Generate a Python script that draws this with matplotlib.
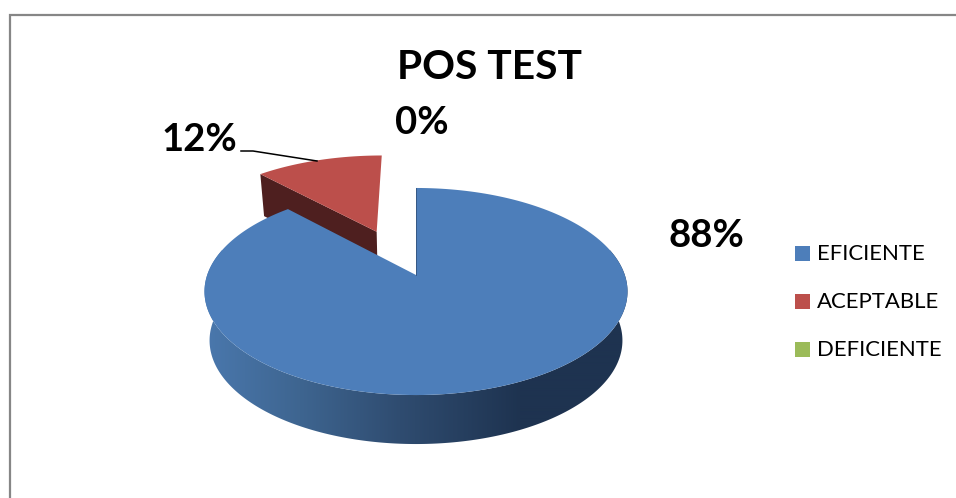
import numpy as np
import matplotlib
matplotlib.use('Agg')
import matplotlib.pyplot as plt
from matplotlib.patches import Polygon

# data
categories = ['EFICIENTE', 'ACEPTABLE', 'DEFICIENTE']
values = [88, 12, 0]
colors = ['#4d7eba', '#bc4f4b', '#9bbb59']
title = 'POS TEST'

# pie geometry, in pixels of the canvas
cx, cy = 416.0, 275.0
rx, ry = 208.8, 100.9
k = 0.1594          # perspective strength
shrink = 0.976      # base of the pie is a bit narrower
blue_depth = 49
red_depth = 42
explode = 0.495


def project(phi, r=1.0, off=(0.0, 0.0)):
    # phi is degrees clockwise from the top
    a = np.radians(phi)
    u = r * np.sin(a) + off[0]
    v = r * np.cos(a) + off[1]
    s = 1.0 / (1.0 + k * v)
    return cx + rx * u * s, cy - ry * v * s


def sector(start, end, off=(0.0, 0.0)):
    phi = np.linspace(start, end, 200)
    x, y = project(phi, off=off)
    ax0, ay0 = project(0.0, r=0.0, off=off)
    return np.r_[ax0, x], np.r_[ay0, y]


plt.rcParams['font.family'] = ['Lato', 'DejaVu Sans']
fig = plt.figure(figsize=(9.56, 4.98), dpi=100)
ax = fig.add_axes([0, 0, 1, 1])
ax.set_xlim(0, 956)
ax.set_ylim(498, 0)
ax.axis('off')

# frame of the chart, it runs off the crop right and below
ax.plot([10, 10, 956], [498, 15, 15], color='#868686', lw=1.6,
        solid_joinstyle='miter', zorder=1)

angles = 360.0 * np.cumsum([0] + values) / sum(values)

# red slice is pulled out along its middle angle
mid = np.radians((angles[1] + angles[2]) / 2.0)
off = (explode * np.sin(mid) - 0.02, explode * np.cos(mid))

# wall of the red slice, the cut side looking at us
x0, y0 = project(angles[1], off=off)
x1, y1 = project(0.0, r=0.0, off=off)
xs = np.array([x0, x1, cx + (x1 - cx) * shrink, cx + (x0 - cx) * shrink])
ys = np.array([y0, y1, y1 + red_depth, y0 + red_depth])
ax.fill(xs, ys, color='#4e1f1f', lw=0, zorder=2)

# top of the red slice
x, y = sector(angles[1], angles[2], off=off)
ax.fill(x, y, color=colors[1], lw=0, zorder=3)

# wall of the blue slice, shaded from left to right
shade_x = [205, 300, 400, 520, 630]
shade_c = np.array([[0x4a, 0x78, 0xad], [0x3e, 0x65, 0x90], [0x2f, 0x4c, 0x70],
                    [0x1e, 0x33, 0x50], [0x1e, 0x33, 0x50]]) / 255.0
phi = np.linspace(75, 285, 421)
wx, wy = project(phi)
wall = Polygon(np.c_[np.r_[wx, cx + (wx[::-1] - cx) * shrink],
                     np.r_[wy, wy[::-1] + blue_depth]],
               closed=True, fc='none', ec='none', transform=ax.transData)
ax.add_patch(wall)
grad_x = np.arange(200, 636)
grad = np.stack([np.interp(grad_x, shade_x, shade_c[:, i]) for i in range(3)],
                axis=-1)[np.newaxis, :, :]
im = ax.imshow(grad, extent=(200, 636, 460, 250), aspect='auto',
               interpolation='bilinear', zorder=4)
im.set_clip_path(wall)
ax.set_xlim(0, 956)
ax.set_ylim(498, 0)

# top of the blue slice
x, y = sector(angles[0], angles[1])
ax.fill(x, y, color=colors[0], lw=0, zorder=5)

# thin dark edge on the straight cut of the blue slice
tx, ty = project(0.0)
ax.plot([cx, tx], [cy, ty], color='#1e3350', lw=0.5, alpha=0.7, zorder=6)

# texts
ax.text(489.5, 67.5, title, ha='center', va='center', fontsize=29.3,
        fontweight='bold', color='black', zorder=7)
label_x = [706.5, 199, 421.5]
label_y = [236, 140, 123]
for v, lx, ly in zip(values, label_x, label_y):
    ax.text(lx, ly, '{0}%'.format(v), ha='center', va='center', fontsize=27.5,
            fontweight='bold', color='black', zorder=7)

# leader line of the 12%
ax.plot([241, 253, 317], [151, 151, 161], color='black', lw=1.1, zorder=7)

# legend
legend_y = [253.5, 301.5, 349.5]
for name, c, ly in zip(categories, colors, legend_y):
    ax.fill([795, 810, 810, 795], [ly - 7.5, ly - 7.5, ly + 7.5, ly + 7.5],
            color=c, lw=0, zorder=7)
    ax.text(817, ly, name, ha='left', va='center', fontsize=15.9,
            color='black', zorder=7)

fig.savefig('out.png', dpi=100)
